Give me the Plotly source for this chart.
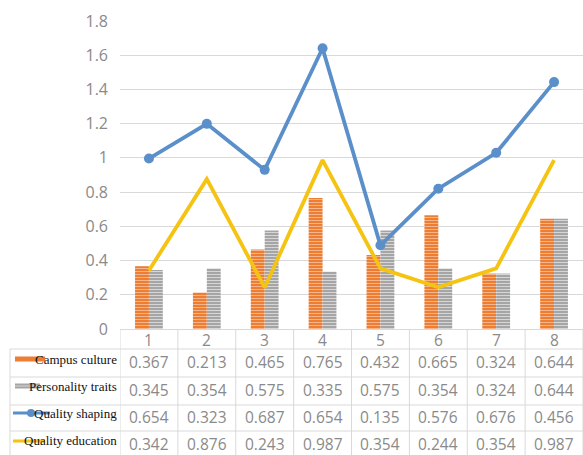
import plotly.graph_objects as go

categories = ["1", "2", "3", "4", "5", "6", "7", "8"]
campus_culture = [0.367, 0.213, 0.465, 0.765, 0.432, 0.665, 0.324, 0.644]
personality_traits = [0.345, 0.354, 0.575, 0.335, 0.575, 0.354, 0.324, 0.644]
quality_shaping = [0.654, 0.323, 0.687, 0.654, 0.135, 0.576, 0.676, 0.456]
quality_education = [0.342, 0.876, 0.243, 0.987, 0.354, 0.244, 0.354, 0.987]
series_names = ["Campus culture", "Personality traits", "Quality shaping", "Quality education"]
y_ticks = [0, 0.2, 0.4, 0.6, 0.8, 1, 1.2, 1.4, 1.6, 1.8]

W, H = 583, 455
ML, MR, MT, MB = 120, 0, 21, 126
PH = H - MT - MB
PW = W - ML - MR

def py(p):  # pixel y -> paper y
    return (H - MB - p) / PH

def px(p):  # pixel x -> paper x
    return (p - ML) / PW

ORANGE = "#ED7D31"
GRAY = "#A5A5A5"
BLUE = "#5B8FC9"
YELLOW = "#F5C312"
GRID = "#D9D9D9"
TXT = "#8A8A8A"

fig = go.Figure()
fig.add_bar(x=categories, y=campus_culture, name=series_names[0],
            marker=dict(color=ORANGE, line=dict(width=0),
                        pattern=dict(shape="-", size=3, solidity=0.35,
                                     fgcolor="#F6B48C", bgcolor=ORANGE, fillmode="replace")))
fig.add_bar(x=categories, y=personality_traits, name=series_names[1],
            marker=dict(color=GRAY, line=dict(width=0),
                        pattern=dict(shape="-", size=3, solidity=0.35,
                                     fgcolor="#D6D6D6", bgcolor=GRAY, fillmode="replace")))
fig.add_scatter(x=categories, y=quality_education, name=series_names[3], mode="lines",
                stackgroup="s", fill="none", line=dict(color=YELLOW, width=3.8))
fig.add_scatter(x=categories, y=quality_shaping, name=series_names[2], mode="lines+markers",
                stackgroup="s", fill="none", line=dict(color=BLUE, width=3.8),
                marker=dict(size=10, color=BLUE))

fig.update_layout(
    width=W, height=H, margin=dict(l=ML, r=MR, t=MT, b=MB),
    plot_bgcolor="white", paper_bgcolor="white", showlegend=False,
    barmode="group", bargap=0.52, bargroupgap=0,
    font=dict(family="Open Sans", size=15, color=TXT),
)
fig.update_yaxes(range=[0, 1.8], tickvals=y_ticks, showgrid=True, gridcolor=GRID,
                 gridwidth=1, zeroline=False, showline=False, ticks="",
                 tickfont=dict(size=16, color=TXT), ticklabelstandoff=11)
fig.update_xaxes(range=[-0.5, 7.5], showticklabels=False, showgrid=False, zeroline=False,
                 showline=True, linecolor=GRID, linewidth=1, ticks="")

shapes = []
annotations = []
line_style = dict(color=GRID, width=1)
# table horizontal lines
row_lines = [349, 377, 405, 431]
for r in row_lines:
    shapes.append(dict(type="line", xref="paper", yref="paper", x0=px(10), x1=1,
                       y0=py(r), y1=py(r), line=line_style))
# vertical lines
shapes.append(dict(type="line", xref="paper", yref="paper", x0=px(10), x1=px(10),
                   y0=py(349), y1=py(H), line=line_style))
for i in range(len(categories) + 1):
    shapes.append(dict(type="line", xref="x", yref="paper", x0=i - 0.5, x1=i - 0.5,
                       y0=0, y1=py(H), line=line_style))

# header
for i, c in enumerate(categories):
    annotations.append(dict(x=i, y=py(340), xref="x", yref="paper", text=c,
                            xanchor="center", yanchor="middle",
                            showarrow=False, font=dict(size=15.5, color=TXT)))
rows = [campus_culture, personality_traits, quality_shaping, quality_education]
row_y = [362, 390, 417, 444]
label_y = [359, 386, 413, 440]
for vals, ry in zip(rows, row_y):
    for i, v in enumerate(vals):
        annotations.append(dict(x=i, y=py(ry), xref="x", yref="paper", text=f"{v:.3f}",
                                xanchor="center", yanchor="middle",
                                showarrow=False, font=dict(size=15.5, color=TXT)))

# legend keys
shapes.append(dict(type="rect", xref="paper", yref="paper", x0=px(15), x1=px(45),
                   y0=py(361.5), y1=py(356.5), fillcolor=ORANGE, line=dict(width=0)))
shapes.append(dict(type="rect", xref="paper", yref="paper", x0=px(15), x1=px(40),
                   y0=py(388.5), y1=py(383.5), fillcolor=GRAY, line=dict(width=0)))
shapes.append(dict(type="line", xref="paper", yref="paper", x0=px(15), x1=px(40),
                   y0=py(386), y1=py(386), line=dict(color="#D6D6D6", width=1)))
shapes.append(dict(type="line", xref="paper", yref="paper", x0=px(13), x1=px(50),
                   y0=py(413), y1=py(413), line=dict(color=BLUE, width=3)))
shapes.append(dict(type="circle", xref="paper", yref="paper", x0=px(27), x1=px(35),
                   y0=py(417), y1=py(409), fillcolor=BLUE, line=dict(width=0)))
shapes.append(dict(type="line", xref="paper", yref="paper", x0=px(13), x1=px(45),
                   y0=py(441), y1=py(441), line=dict(color=YELLOW, width=3)))

for name, ly in zip(series_names, label_y):
    annotations.append(dict(x=px(119), y=py(ly), xref="paper", yref="paper", text=name,
                            xanchor="right", yanchor="middle", showarrow=False,
                            font=dict(family="Liberation Serif", size=13, color="#111111")))

fig.update_layout(shapes=shapes, annotations=annotations)
fig.write_html("out.html")
